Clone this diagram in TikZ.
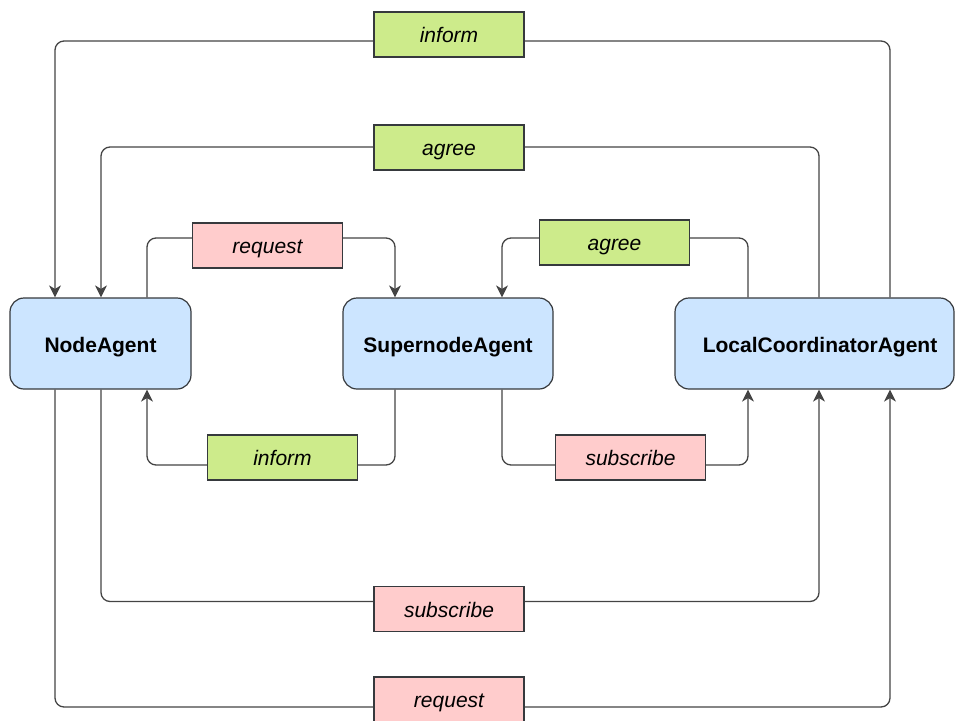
\documentclass[tikz,border=0pt]{standalone}
\usepackage{fontspec}
\setmainfont{Liberation Sans}
\usetikzlibrary{arrows.meta}
\definecolor{agentfill}{HTML}{CCE5FF}
\definecolor{okfill}{HTML}{CDEB8B}
\definecolor{askfill}{HTML}{FFCCCC}
\definecolor{edge}{HTML}{36393D}
\definecolor{wire}{HTML}{444444}
\begin{document}
\begin{tikzpicture}[x=1pt,y=-1pt,
  agent/.style={draw=edge, fill=agentfill, rounded corners=14pt, line width=1.2pt,
    inner sep=0pt, minimum height=91pt, text height=21pt, text depth=4pt,
    font=\fontsize{21}{25}\selectfont\bfseries},
  msg/.style={draw=edge, line width=1.2pt, inner sep=0pt,
    minimum width=150pt, minimum height=45pt, text height=18pt, text depth=2pt,
    font=\fontsize{21}{25}\selectfont\itshape},
  okmsg/.style={msg, fill=okfill},
  askmsg/.style={msg, fill=askfill},
  conn/.style={draw=wire, line width=1.3pt, rounded corners=9pt,
    -{Stealth[length=12pt,width=12pt,inset=3.5pt]}}
]
\useasboundingbox (0,0) rectangle (955,720);

% agents
\node[agent, minimum width=181pt] (na)  at (100.5,343.5) {NodeAgent};
\node[agent, minimum width=210pt] (sn)  at (448,343.5)   {SupernodeAgent};
\node[agent, minimum width=279pt] (lca) at (814.5,343.5) {\hspace*{11pt}LocalCoordinatorAgent};

% routing columns and rows
\coordinate (X55)  at (55,0);
\coordinate (X101) at (101,0);
\coordinate (X147) at (147,0);
\coordinate (X395) at (395,0);
\coordinate (X502) at (502,0);
\coordinate (X748) at (748,0);
\coordinate (X819) at (819,0);
\coordinate (X890) at (890,0);
\coordinate (R41)  at (0,41);
\coordinate (R147) at (0,147);
\coordinate (R238) at (0,238);
\coordinate (R465) at (0,465);
\coordinate (R601) at (0,601.5);
\coordinate (R707) at (0,707);

% message flows
\draw[conn] (lca.north -| X890) -- (X890 |- R41)  -- (X55 |- R41)  -- (na.north -| X55);
\draw[conn] (lca.north -| X819) -- (X819 |- R147) -- (X101 |- R147) -- (na.north -| X101);
\draw[conn] (na.north -| X147)  -- (X147 |- R238) -- (X395 |- R238) -- (sn.north -| X395);
\draw[conn] (lca.north -| X748) -- (X748 |- R238) -- (X502 |- R238) -- (sn.north -| X502);
\draw[conn] (sn.south -| X395)  -- (X395 |- R465) -- (X147 |- R465) -- (na.south -| X147);
\draw[conn] (sn.south -| X502)  -- (X502 |- R465) -- (X748 |- R465) -- (lca.south -| X748);
\draw[conn] (na.south -| X101)  -- (X101 |- R601) -- (X819 |- R601) -- (lca.south -| X819);
\draw[conn] (na.south -| X55)   -- (X55 |- R707)  -- (X890 |- R707) -- (lca.south -| X890);

% message labels
\node[okmsg]  (m1) at (449,34.5)    {inform};
\node[okmsg]  (m2) at (449,147.5)   {agree};
\node[askmsg] (m3) at (267.5,245.5) {request};
\node[okmsg]  (m4) at (614.5,242.5) {agree};
\node[okmsg]  (m5) at (282.5,457.5) {inform};
\node[askmsg] (m6) at (630.5,457.5) {subscribe};
\node[askmsg] (m7) at (449,609)     {subscribe};
\node[askmsg] (m8) at (449,699.5)   {request};
\end{tikzpicture}
\end{document}
